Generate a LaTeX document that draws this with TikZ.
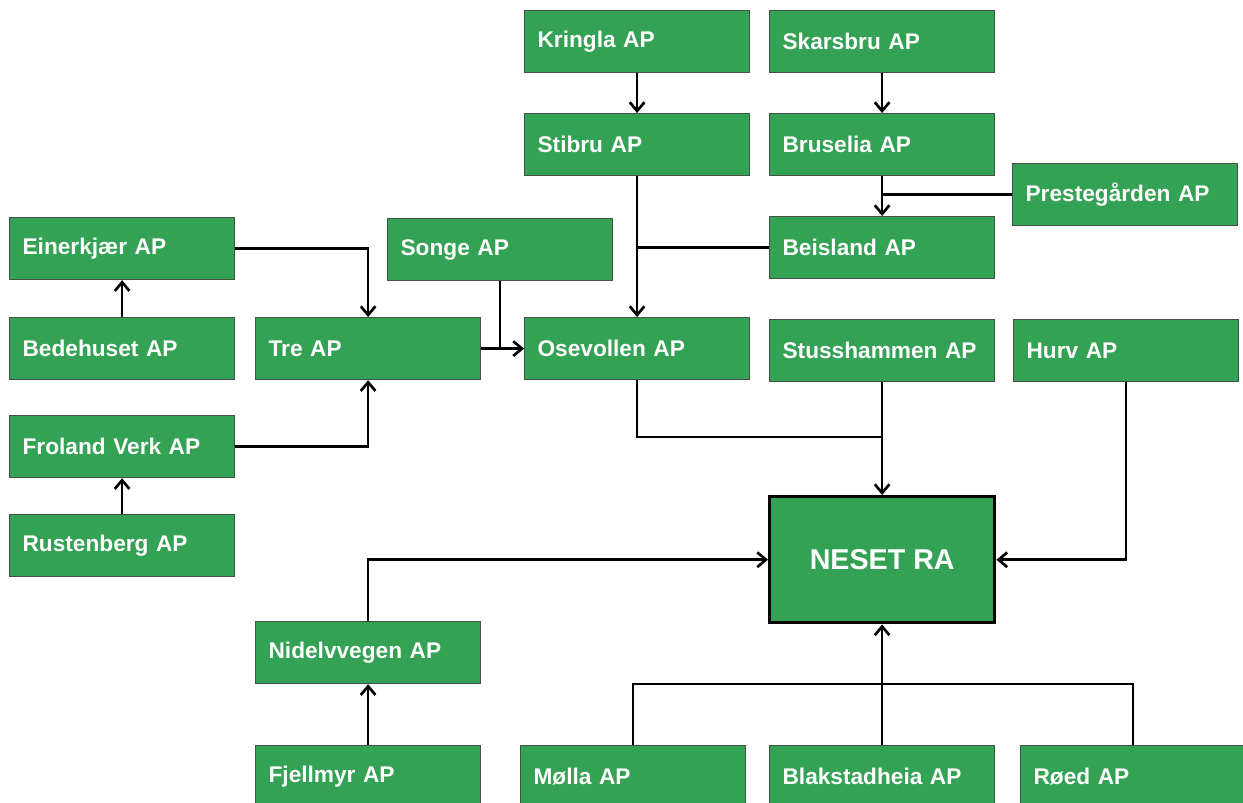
\documentclass[tikz,border=0pt]{standalone}
\usepackage{fontspec}
\setmainfont{Liberation Sans}
\usetikzlibrary{arrows.meta,calc}
\definecolor{boxgreen}{RGB}{52,162,84}
\definecolor{boxedge}{RGB}{70,80,70}
\tikzset{
  box/.style={draw=boxedge, line width=0.9pt, fill=boxgreen, text=white,
    font=\bfseries\fontsize{17}{20}\selectfont, anchor=north west,
    inner xsep=9.75pt, inner ysep=0pt, text width=149.25pt, align=left,
    minimum height=46.5pt},
  bigbox/.style={draw=black, line width=2.6pt, fill=boxgreen, text=white,
    font=\bfseries\fontsize{21.5}{25}\selectfont, anchor=north west,
    inner sep=0pt, minimum width=168.75pt, minimum height=94.5pt, align=center},
  conn/.style={line width=2pt, draw=black},
  arr/.style={conn, -{Straight Barb[length=6.5pt,width=11pt,line width=2pt]}}
}
\begin{document}
\begin{tikzpicture}[x=0.75pt,y=-0.75pt]
\useasboundingbox (0,0) rectangle (1243,803);
\clip (0,0) rectangle (1243,803);
% nodes
\node[box] (kringla) at (524,10) {Kringla AP};
\node[box] (skarsbru) at (769,10) {Skarsbru AP};
\node[box] (stibru) at (524,113) {Stibru AP};
\node[box] (bruselia) at (769,113) {Bruselia AP};
\node[box] (preste) at (1012,163) {Prestegården AP};
\node[box] (beisland) at (769,216) {Beisland AP};
\node[box] (einer) at (9,217) {Einerkjær AP};
\node[box] (songe) at (387,218) {Songe AP};
\node[box] (bede) at (9,317) {Bedehuset AP};
\node[box] (tre) at (255,317) {Tre AP};
\node[box] (osevollen) at (524,317) {Osevollen AP};
\node[box] (stuss) at (769,319) {Stusshammen AP};
\node[box] (hurv) at (1013,319) {Hurv AP};
\node[box] (froland) at (9,415) {Froland Verk AP};
\node[box] (rusten) at (9,514) {Rustenberg AP};
\node[bigbox] (neset) at (768,495) {NESET RA};
\node[box] (nidel) at (255,621) {Nidelvvegen AP};
\node[box] (fjell) at (255,745) {Fjellmyr AP};
\node[box] (molla) at (520,745) {Mølla AP};
\node[box] (blak) at (769,745) {Blakstadheia AP};
\node[box] (roed) at (1020,745) {Røed AP};
\coordinate (jo) at (0,437);
\coordinate (jb) at (0,684);
% connectors
\draw[arr] (kringla.south) -- (stibru.north);
\draw[arr] (skarsbru.south) -- (bruselia.north);
\draw[arr] (bruselia.south) -- (beisland.north);
\draw[conn] (preste.west) -- (preste.west -| bruselia.south);
\draw[arr] (stibru.south) -- (osevollen.north);
\draw[conn] (beisland.west) -- (beisland.west -| stibru.south);
\draw[arr] (einer.east) -| (tre.north);
\draw[arr] (bede.north) -- (einer.south);
\draw[arr] (rusten.north) -- (froland.south);
\draw[arr] (froland.east) -| (tre.south);
\draw[arr] (tre.east) -- (osevollen.west);
\draw[conn] (songe.south) -- (songe.south |- tre.east);
\draw[conn] (osevollen.south) |- (jo -| stuss.south);
\draw[arr] (stuss.south) -- (stuss.south |- neset.north);
\draw[arr] (hurv.south) |- (neset.east);
\draw[arr] (nidel.north) |- (neset.west);
\draw[arr] (fjell.north) -- (nidel.south);
\draw[conn] (molla.north) |- (roed.north |- jb) -- (roed.north);
\draw[arr] (blak.north) -- (blak.north |- neset.south);
\end{tikzpicture}
\end{document}
